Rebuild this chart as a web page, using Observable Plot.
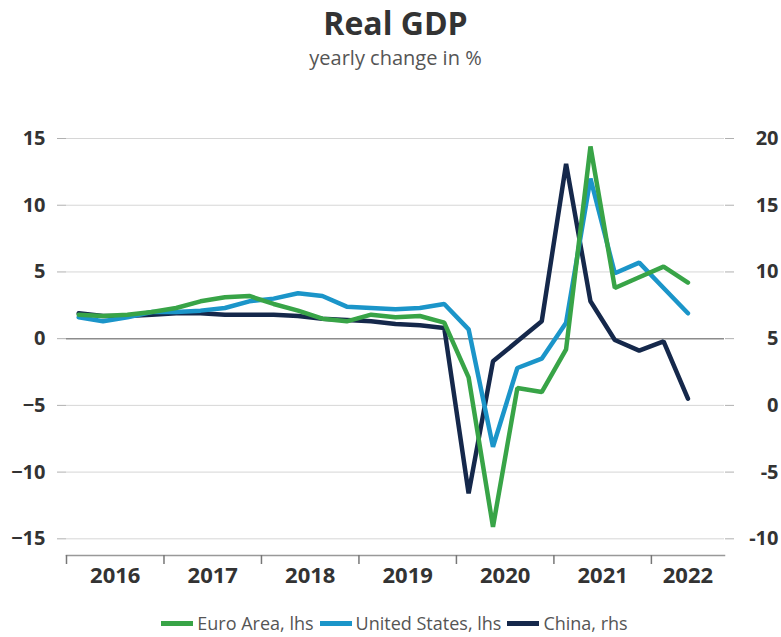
<!DOCTYPE html>
<html><head><meta charset="utf-8">
<script src="https://cdn.jsdelivr.net/npm/d3@7"></script>
<script src="https://cdn.jsdelivr.net/npm/@observablehq/plot@0.6"></script>
<style>
body{margin:0;background:#fff;font-family:"Open Sans",sans-serif;}
#wrap{position:relative;width:781px;height:637px;overflow:hidden;}
#title{position:absolute;left:0;width:781px;top:6px;text-align:center;font-size:32px;line-height:34px;font-weight:700;color:#333;padding-left:10px;box-sizing:border-box;}
#sub{position:absolute;left:0;width:781px;top:46px;text-align:center;font-size:20px;line-height:24px;color:#555;padding-left:10px;box-sizing:border-box;}
#chart{position:absolute;left:0;top:90px;}
#legend{position:absolute;left:0;width:781px;top:612px;display:flex;justify-content:center;align-items:center;font-size:18px;line-height:22px;color:#555;padding-left:14px;box-sizing:border-box;}
#legend .it{display:flex;align-items:center;margin-right:6px;}
#legend .sw{display:inline-block;width:32px;height:5px;margin-right:4px;}
</style></head><body>
<div id="wrap">
<div id="title">Real GDP</div>
<div id="sub">yearly change in %</div>
<div id="chart"></div>
<div id="legend"></div>
</div>
<script>
const quarters = ["2016Q1","2016Q2","2016Q3","2016Q4","2017Q1","2017Q2","2017Q3","2017Q4",
  "2018Q1","2018Q2","2018Q3","2018Q4","2019Q1","2019Q2","2019Q3","2019Q4",
  "2020Q1","2020Q2","2020Q3","2020Q4","2021Q1","2021Q2","2021Q3","2021Q4","2022Q1","2022Q2"];
const euroArea = [1.8,1.7,1.8,2.0, 2.3,2.8,3.1,3.2, 2.6,2.1,1.5,1.3, 1.8,1.6,1.7,1.2, -2.9,-14.1,-3.7,-4.0, -0.8,14.4,3.8,4.6, 5.4,4.2];
const unitedStates = [1.6,1.3,1.6,2.0, 2.0,2.1,2.3,2.8, 3.0,3.4,3.2,2.4, 2.3,2.2,2.3,2.6, 0.7,-8.1,-2.2,-1.5, 1.2,12.0,4.9,5.7, 3.8,1.9];
const chinaRhs = [6.9,6.7,6.7,6.8, 6.9,6.9,6.8,6.8, 6.8,6.7,6.5,6.4, 6.3,6.1,6.0,5.8, -6.6,3.3,4.8,6.3, 18.1,7.8,4.9,4.1, 4.8,0.5];
const yearLabels = ["2016","2017","2018","2019","2020","2021","2022"];
const lhsTicks = [-15,-10,-5,0,5,10,15];
const rhsTicks = [-10,-5,0,5,10,15,20];
const seriesNames = ["Euro Area, lhs","United States, lhs","China, rhs"];
const colors = ["#38a447","#1b95c9","#15284b"];

const xEnd = 2022.75;
const toX = q => +q.slice(0,4) + (+q.slice(-1) - 0.5) / 4;
const rhsToLhs = d3.scaleLinear([rhsTicks[0], rhsTicks[rhsTicks.length-1]], [lhsTicks[0], lhsTicks[lhsTicks.length-1]]);
const mk = (vals, f) => quarters.map((q,i) => ({x: toX(q), y: f(vals[i])}));
const euroRows = mk(euroArea, v => v);
const usRows = mk(unitedStates, v => v);
const chinaRows = mk(chinaRhs, v => rhsToLhs(v));
const years = yearLabels.map(Number);
const yearMid = y => (y + Math.min(y + 1, xEnd)) / 2;

const chart = Plot.plot({
  width: 781, height: 510,
  marginTop: 48, marginBottom: 45, marginLeft: 66, marginRight: 57,
  x: {domain: [2016, xEnd]},
  y: {domain: [-16.25, 15]},
  style: {fontFamily: "Open Sans, sans-serif"},
  marks: [
    Plot.gridY(lhsTicks.filter(d => d !== 0), {stroke: "#d6d6d6", strokeOpacity: 1}),
    Plot.axisY(lhsTicks, {anchor: "left", tickSize: 9, tickPadding: 12, stroke: "#b0b0b0", fill: "#333", fontSize: 20, fontWeight: 700, label: null}),
    Plot.axisY(lhsTicks, {anchor: "right", tickSize: 9, tickPadding: 45, textAnchor: "end", stroke: "#b0b0b0", fill: "#333", fontSize: 20, fontWeight: 700, label: null,
      tickFormat: d => String(rhsTicks[lhsTicks.indexOf(d)])}),
    Plot.ruleY([0], {stroke: "#8c8c8c", strokeWidth: 1.5}),
    Plot.frame({anchor: "bottom", stroke: "#999", strokeWidth: 1.5}),
    Plot.axisX(years, {tickSize: 9, stroke: "#777", strokeWidth: 1.5, tickFormat: () => "", label: null}),
    Plot.text(years, {x: yearMid, text: (d, i) => yearLabels[i], frameAnchor: "bottom", dy: 27, fontSize: 22, fontWeight: 700, fill: "#333"}),
    Plot.line(chinaRows, {x: "x", y: "y", stroke: colors[2], strokeWidth: 4.5, strokeLinejoin: "miter"}),
    Plot.line(usRows, {x: "x", y: "y", stroke: colors[1], strokeWidth: 4.5, strokeLinejoin: "miter"}),
    Plot.line(euroRows, {x: "x", y: "y", stroke: colors[0], strokeWidth: 4.5, strokeLinejoin: "miter"})
  ]
});
document.getElementById("chart").appendChild(chart);

const lg = document.getElementById("legend");
seriesNames.forEach((n, i) => {
  const it = document.createElement("span"); it.className = "it";
  const sw = document.createElement("span"); sw.className = "sw"; sw.style.background = colors[i];
  it.appendChild(sw); it.appendChild(document.createTextNode(n));
  lg.appendChild(it);
});
</script>
</body></html>
